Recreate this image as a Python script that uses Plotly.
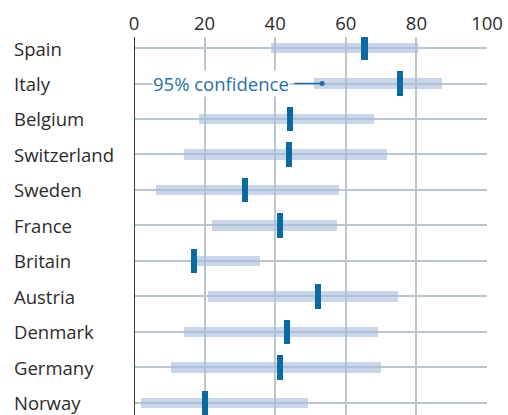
import plotly.graph_objects as go

countries = ["Spain", "Italy", "Belgium", "Switzerland", "Sweden", "France",
             "Britain", "Austria", "Denmark", "Germany", "Norway"]
estimate = [65.3, 75.3, 44.2, 43.9, 31.4, 41.4, 17.1, 52.1, 43.3, 41.4, 20.2]
ci_low = [38.8, 51.0, 18.5, 14.1, 6.1, 22.2, 16.5, 21.0, 14.3, 10.5, 2.0]
ci_high = [80.5, 87.2, 68.0, 71.8, 58.2, 57.6, 35.7, 74.8, 69.0, 69.9, 49.4]
x_ticks = [0, 20, 40, 60, 80, 100]
note_text = "95% confidence"
note_country = "Italy"
note_point = 53.3

FONT = "Open Sans"
FS = 18.5
idx = list(range(len(countries)))

fig = go.Figure()
fig.add_trace(go.Bar(
    y=idx, x=[h - l for l, h in zip(ci_low, ci_high)], base=ci_low,
    orientation="h", width=0.29,
    marker=dict(color="rgba(168,188,218,0.62)", line=dict(width=0)),
    hoverinfo="skip", showlegend=False))
fig.add_trace(go.Bar(
    y=idx, x=[1.75] * len(estimate), base=[e - 0.875 for e in estimate],
    orientation="h", width=0.68,
    marker=dict(color="#0b6aa2", line=dict(width=0)),
    hoverinfo="skip", showlegend=False))

ni = countries.index(note_country)
fig.add_trace(go.Scatter(
    x=[45.5, note_point], y=[ni, ni], mode="lines",
    line=dict(color="#1d6ca6", width=1.5), hoverinfo="skip", showlegend=False))
fig.add_trace(go.Scatter(
    x=[note_point], y=[ni], mode="markers",
    marker=dict(color="#1d6ca6", size=5), hoverinfo="skip", showlegend=False))

fig.add_annotation(x=5.0, y=ni, xref="x", yref="y", text=note_text,
                   showarrow=False, xanchor="left", yanchor="middle",
                   font=dict(family=FONT, size=FS, color="#2a70a8"),
                   bgcolor="white", borderpad=0)

for i, c in enumerate(countries):
    fig.add_annotation(x=-122 / 353, y=i, xref="paper", yref="y", text=c,
                       showarrow=False, xanchor="left", yanchor="middle",
                       font=dict(family=FONT, size=FS, color="#2b2b2b"))

fig.add_shape(type="line", xref="x", yref="paper", x0=0, x1=0, y0=0, y1=1,
              line=dict(color="#3a3a3a", width=2))

fig.update_layout(
    width=508, height=415,
    margin=dict(l=134, r=21, t=37, b=0),
    paper_bgcolor="white", plot_bgcolor="white",
    barmode="overlay", bargap=0,
    xaxis=dict(range=[0, 100], side="top", tickvals=x_ticks,
               showgrid=True, gridcolor="#b9c7d0", gridwidth=1.5,
               zeroline=False, showline=False, ticks="",
               ticklabelstandoff=2,
               tickfont=dict(family=FONT, size=FS, color="#2b2b2b"),
               fixedrange=True),
    yaxis=dict(range=[10.34, -0.31], tickvals=idx, showticklabels=False,
               showgrid=True, gridcolor="#b9c7d0", gridwidth=1.5,
               zeroline=False, showline=False, fixedrange=True),
)

fig.write_html(
    "out.html",
    config={"displayModeBar": False},
    post_script="document.body.style.margin='0';"
                "document.body.style.overflow='hidden';",
)
